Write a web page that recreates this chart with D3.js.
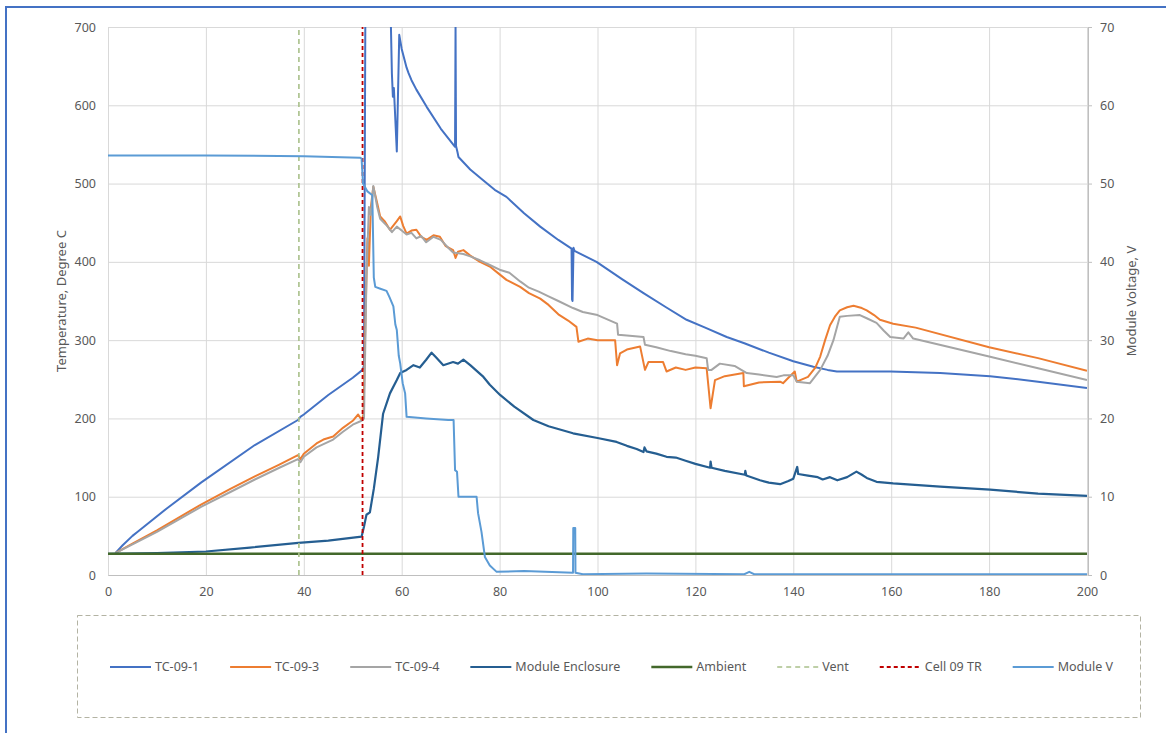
<!DOCTYPE html>
<html>
<head>
<meta charset="utf-8">
<script src="https://cdn.jsdelivr.net/npm/d3@7"></script>
<style>
  html, body { margin: 0; padding: 0; background: #fff; }
  svg text { font-family: "Noto Sans", "Open Sans", sans-serif; fill: #595959; }
</style>
</head>
<body>
<svg id="chart" width="1166" height="733"></svg>
<script>
// ticks
const timeTicks = [0, 20, 40, 60, 80, 100, 120, 140, 160, 180, 200];
const tempTicks = [0, 100, 200, 300, 400, 500, 600, 700];
const voltTicks = [0, 10, 20, 30, 40, 50, 60, 70];

// event markers (minutes)
const ventTime = 39;
const cellTrTime = 52;

// [time, degC]
const tc091 = [[1.5,28],[3,38],[5,50],[6,55],[12,85],[19,118],[30,166],[38.8,198],[39.3,202],[40,205],[45,230],[50,252],[52,262],[52.3,268],[52.6,760],[57.6,760],[57.8,700],[58,640],[58.2,611],[58.4,622],[59,541],[59.5,690],[60,672],[61,648],[61.4,641],[62,632],[63,620],[65.1,598],[68,570],[70.9,547],[71,700],[71.1,548],[71.4,540],[71.6,534],[74,518],[76.7,504],[79,492],[81.4,483],[85,462],[88.3,445],[92,428],[94.7,417],[94.8,352],[94.9,350],[95.1,418],[95.3,414],[99.8,400],[105,378],[109.4,360],[114,342],[118.2,326],[122,316],[126.4,304],[130,296],[135,284],[140,273],[144.1,266],[147,262],[148.9,260],[155,260],[159.8,260],[170,258],[180.2,254],[190,247],[200,239]];

const tc093 = [[1.5,28],[5,40],[10,57],[19,90],[25,110],[30,126],[35,141],[38.8,153],[39.3,148],[40,155],[42.6,168],[44,173],[46,177],[48,188],[50,197],[51.1,205],[51.8,198],[52.2,205],[52.6,330],[53,430],[53.3,395],[53.7,470],[54.2,496],[55,475],[55.6,458],[56.5,452],[57.6,441],[59,452],[59.7,458],[60.3,446],[61,436],[62,440],[63,441],[64,432],[65.1,428],[66.5,434],[67.8,432],[69,420],[70.5,415],[71,405],[71.5,413],[72.6,415],[74,408],[76,400],[78,394],[80,384],[81.4,377],[84.2,368],[86,360],[88.3,353],[90,345],[92,333],[94,325],[95.7,317],[96.1,298],[98,302],[100,300],[103.6,300],[104,268],[104.6,283],[106,288],[108.7,292],[109.7,262],[110.4,272],[113.4,272],[114.1,260],[116,265],[118,262],[120,265],[122.3,264],[123.1,213],[124,249],[126,254],[129.8,258],[129.9,241],[133,246],[137.3,247],[137.9,245],[139,252],[140.3,260],[140.7,247],[143,253],[144.5,265],[145.5,279],[146.5,300],[147.5,319],[148.5,330],[149.5,338],[151,342],[152.3,344],[154,341],[155,338],[156.5,332],[157.7,326],[160.4,321],[165,316],[180,291],[190,277],[200,261]];

const tc094 = [[1.5,28],[5,39],[10,55],[19,87],[25,106],[30,122],[35,137],[38.8,148],[39.3,144],[40,151],[42.6,163],[46,173],[48,183],[50,192],[51.8,197],[52.3,200],[52.8,380],[53.3,470],[53.7,460],[54.2,497],[55,470],[55.6,455],[57,446],[58,438],[59,445],[60,440],[61,435],[62,437],[63,430],[64,433],[65,425],[66.5,432],[68,428],[69.5,418],[70.5,412],[72.6,410],[74,407],[76,402],[78,396],[80,390],[82,386],[84.2,375],[86,367],[88,362],[90,356],[92,350],[95,341],[97,336],[100,332],[104,321],[104.2,307],[106,306],[109.4,304],[109.7,294],[112,291],[115,286],[118,282],[120,280],[122.3,277],[122.6,262],[123.3,262],[125,270],[128,267],[130.5,258],[133,256],[136.6,253],[138,255],[140,255],[140.7,247],[143.4,245],[145.5,262],[147,280],[148.2,300],[149.5,330],[151,331],[153.6,332],[155,328],[157,322],[158.5,312],[159.8,304],[162.5,302],[163.5,310],[164.5,302],[180,279],[190,264],[200,249]];

const enclosure = [[0,27],[10,28],[20,30],[29,35],[38.9,41],[45,44],[51.8,49],[52.3,62],[52.8,77],[53.5,80],[54.3,110],[55.2,151],[56.2,206],[57.6,232],[59,249],[59.7,258],[61,262],[62.4,268],[63.7,265],[65,275],[66.1,284],[67,278],[68.5,268],[70.5,272],[71.5,270],[72.6,275],[74,268],[76.7,253],[78,243],[80.1,230],[83,215],[86.9,198],[90,190],[95,181],[100,175],[103.9,170],[106,165],[108,161],[109.4,157],[109.6,163],[110,158],[112,155],[114.1,151],[116,150],[118,146],[120,142],[123,137],[123.1,145],[123.3,137],[126,133],[130.1,128],[130.2,133],[130.4,127],[133.2,121],[135,118],[137.3,116],[139,120],[140,123],[140.8,138],[141,129],[143,127],[145,125],[146,122],[147.5,125],[149,121],[151,125],[152.9,132],[154,128],[155,124],[157,119],[160.4,117],[170,113],[180.2,109],[190,104],[200,101]];

const ambient = [[0,27],[50,27],[100,27],[150,27],[200,27]];

// [time, volts] on the right axis
const moduleV = [[0,53.6],[20,53.6],[40,53.5],[51.5,53.3],[51.8,53.2],[52.1,50],[53,49],[54,48.5],[54.3,38],[54.6,36.8],[55.5,36.6],[56.9,36.3],[57.5,35.5],[58.3,34.3],[58.7,32],[59,31.3],[59.4,28],[59.7,27],[60.2,24.5],[60.7,23.2],[61,20.2],[65,20],[69.5,19.8],[70.6,19.8],[70.9,13.4],[71.3,13.2],[71.6,10],[73,10],[75.3,10],[75.6,7.9],[76.3,5.5],[77,2.3],[78,1.2],[79.4,0.4],[85,0.5],[95,0.3],[95.05,6],[95.45,6],[95.5,0.3],[97,0.1],[110,0.2],[130,0.1],[131,0.4],[132,0.1],[160,0.1],[200,0.1]];

const svg = d3.select("#chart");
const margin = {top: 27, right: 79, bottom: 158, left: 108};
const W = 1166, H = 733;

const x = d3.scaleLinear().domain([0, 200]).range([margin.left, W - margin.right]);
const yT = d3.scaleLinear().domain([0, 700]).range([H - margin.bottom, margin.top]);
const yV = d3.scaleLinear().domain([0, 70]).range([H - margin.bottom, margin.top]);

// outer frame (only top and left edges show)
svg.append("rect")
  .attr("x", 6).attr("y", 7).attr("width", 1200).attr("height", 800)
  .attr("fill", "none").attr("stroke", "#4472C4").attr("stroke-width", 2);

// gridlines
const grid = svg.append("g").attr("stroke", "#D9D9D9").attr("stroke-width", 1);
grid.selectAll(".gx").data(timeTicks).join("line")
  .attr("x1", d => x(d) + 0.5).attr("x2", d => x(d) + 0.5)
  .attr("y1", yT(700)).attr("y2", yT(0));
grid.selectAll(".gy").data(tempTicks).join("line")
  .attr("x1", x(0)).attr("x2", x(200))
  .attr("y1", d => yT(d) + 0.5).attr("y2", d => yT(d) + 0.5);

// axes
const axX = svg.append("g").attr("transform", `translate(0,${yT(0)})`)
  .call(d3.axisBottom(x).tickValues(timeTicks).tickSize(0).tickPadding(12));
const axL = svg.append("g").attr("transform", `translate(${x(0)},0)`)
  .call(d3.axisLeft(yT).tickValues(tempTicks).tickSize(0).tickPadding(12));
const axR = svg.append("g").attr("transform", `translate(${x(200) + 1},0)`)
  .call(d3.axisRight(yV).tickValues(voltTicks).tickSize(4).tickPadding(8));
[axX, axL, axR].forEach(a => {
  a.selectAll("text").attr("font-size", 12.5).attr("fill", "#595959")
    .style("font-family", '"Noto Sans", sans-serif');
  a.selectAll("line").attr("stroke", "#BFBFBF");
  a.select(".domain").attr("stroke", "#BFBFBF");
});
axL.select(".domain").remove();

// axis titles
svg.append("text")
  .attr("transform", `translate(66,${(yT(0) + yT(700)) / 2}) rotate(-90)`)
  .attr("text-anchor", "middle").attr("font-size", 13)
  .text("Temperature, Degree C");
svg.append("text")
  .attr("transform", `translate(1136,${(yT(0) + yT(700)) / 2}) rotate(-90)`)
  .attr("text-anchor", "middle").attr("font-size", 13)
  .text("Module Voltage, V");

// clip to plot area
svg.append("defs").append("clipPath").attr("id", "plot")
  .append("rect").attr("x", x(0)).attr("y", yT(700))
  .attr("width", x(200) - x(0)).attr("height", yT(0) - yT(700));

const lineT = d3.line().x(d => x(d[0])).y(d => yT(d[1]));
const lineV = d3.line().x(d => x(d[0])).y(d => yV(d[1]));

const series = [
  {name: "TC-09-1", data: tc091, color: "#4472C4", w: 2, line: lineT},
  {name: "TC-09-3", data: tc093, color: "#ED7D31", w: 2, line: lineT},
  {name: "TC-09-4", data: tc094, color: "#A5A5A5", w: 2, line: lineT},
  {name: "Module Enclosure", data: enclosure, color: "#255E91", w: 2.2, line: lineT},
  {name: "Ambient", data: ambient, color: "#43682B", w: 2.5, line: lineT},
  {name: "Vent", data: [[ventTime, 0], [ventTime, 700]], color: "#A9C08A", w: 1.6, dash: "5,4", line: lineT},
  {name: "Cell 09 TR", data: [[cellTrTime, 0], [cellTrTime, 700]], color: "#C00000", w: 1.8, dash: "4,3", line: lineT},
  {name: "Module V", data: moduleV, color: "#5B9BD5", w: 2, line: lineV}
];

const plot = svg.append("g").attr("clip-path", "url(#plot)");
series.forEach(s => {
  plot.append("path")
    .datum(s.data)
    .attr("fill", "none")
    .attr("stroke", s.color)
    .attr("stroke-width", s.w)
    .attr("stroke-dasharray", s.dash || null)
    .attr("stroke-linejoin", "round")
    .attr("d", s.line);
});

// legend
svg.append("rect")
  .attr("x", 77.5).attr("y", 615.5).attr("width", 1063).attr("height", 102)
  .attr("fill", "none").attr("stroke", "#B3B3A3").attr("stroke-width", 1)
  .attr("stroke-dasharray", "5,3");

const legendY = 667;
let lx = 110;
series.forEach(s => {
  const g = svg.append("g");
  g.append("line")
    .attr("x1", lx).attr("x2", lx + 41)
    .attr("y1", legendY).attr("y2", legendY)
    .attr("stroke", s.color).attr("stroke-width", s.w)
    .attr("stroke-dasharray", s.dash || null);
  const t = g.append("text")
    .attr("x", lx + 45).attr("y", legendY).attr("dy", "0.35em")
    .attr("font-size", 12.5)
    .text(s.name);
  lx += 45 + t.node().getComputedTextLength() + 31;
});
</script>
</body>
</html>
